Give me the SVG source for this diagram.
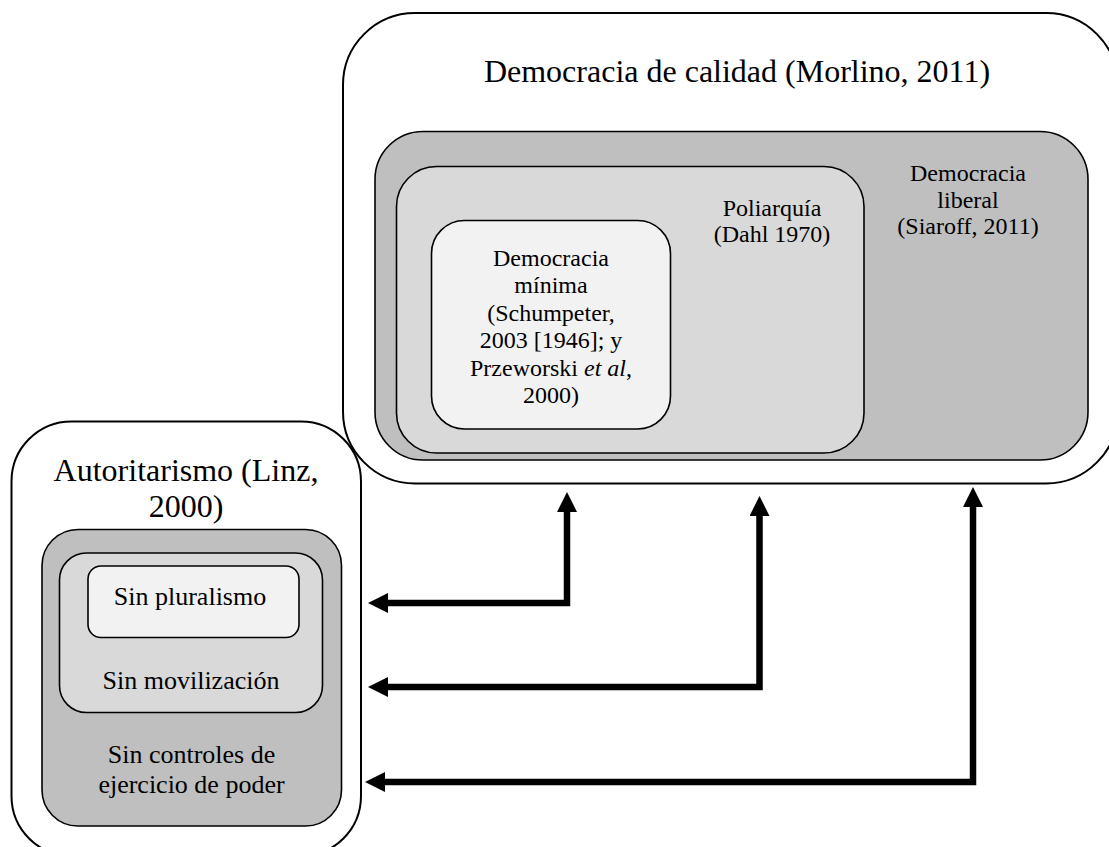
<svg xmlns="http://www.w3.org/2000/svg" width="1109" height="847" viewBox="0 0 1109 847">
  <style>
    text { font-family: "Liberation Serif", "Times New Roman", serif; fill: #000; text-anchor: middle; }
    .t32 { font-size: 32px; }
    .t26 { font-size: 26px; }
    .t24 { font-size: 24px; }
    .outer { fill: none; stroke: #000; stroke-width: 2; }
    .box { stroke: #000; stroke-width: 1.6; }
    .dark { fill: #bfbfbf; }
    .mid { fill: #d9d9d9; }
    .light { fill: #f2f2f2; }
    .link { fill: none; stroke: #000; stroke-width: 6.5; stroke-linejoin: miter; }
  </style>
  <defs>
    <marker id="head" markerUnits="userSpaceOnUse" markerWidth="20" markerHeight="20" viewBox="0 0 20 20" refX="0" refY="10" orient="auto-start-reverse">
      <path d="M0,0 L20,10 L0,20 z" fill="#000"/>
    </marker>
  </defs>
  <rect width="1109" height="847" fill="#fff"/>

  <!-- Quality democracy and its nested types -->
  <g id="democracia-calidad">
    <rect class="outer" x="343" y="13" width="775" height="470.5" rx="72"/>
    <text class="t32" x="737" y="82">Democracia de calidad (Morlino, 2011)</text>
  </g>
  <g id="democracia-liberal">
    <rect class="box dark" x="375" y="131.5" width="713" height="328.5" rx="48"/>
    <text class="t24" x="968" y="181">Democracia</text>
    <text class="t24" x="968" y="207.5">liberal</text>
    <text class="t24" x="968" y="234">(Siaroff, 2011)</text>
  </g>
  <g id="poliarquia">
    <rect class="box mid" x="396.5" y="166.5" width="467.5" height="286.5" rx="40"/>
    <text class="t24" x="772" y="215.5">Poliarquía</text>
    <text class="t24" x="772" y="242">(Dahl 1970)</text>
  </g>
  <g id="democracia-minima">
    <rect class="box light" x="431.5" y="220.5" width="239" height="208.5" rx="33"/>
    <text class="t24" x="551" y="266">Democracia</text>
    <text class="t24" x="551" y="293">mínima</text>
    <text class="t24" x="551" y="320.5">(Schumpeter,</text>
    <text class="t24" x="551" y="348">2003 [1946]; y</text>
    <text class="t24" x="551" y="375.5">Przeworski <tspan font-style="italic">et al</tspan>,</text>
    <text class="t24" x="551" y="403">2000)</text>
  </g>

  <!-- Authoritarianism and its nested features -->
  <g id="autoritarismo">
    <rect class="outer" x="11.5" y="421.5" width="349.5" height="434.5" rx="60"/>
    <text class="t32" x="186" y="481">Autoritarismo (Linz,</text>
    <text class="t32" x="186" y="516.5">2000)</text>
  </g>
  <g id="sin-controles">
    <rect class="box dark" x="42" y="529.5" width="299.5" height="296.5" rx="36"/>
    <text class="t26" x="191.5" y="763">Sin controles de</text>
    <text class="t26" x="191.5" y="793">ejercicio de poder</text>
  </g>
  <g id="sin-movilizacion">
    <rect class="box mid" x="59.5" y="553" width="263" height="159.5" rx="27"/>
    <text class="t26" x="191" y="688.5">Sin movilización</text>
  </g>
  <g id="sin-pluralismo">
    <rect class="box light" x="88" y="566" width="211" height="71.5" rx="13"/>
    <text class="t26" x="190" y="605">Sin pluralismo</text>
  </g>

  <!-- Double-headed elbow connectors -->
  <g id="connectors">
    <path class="link" d="M567 512 V603 H388" marker-start="url(#head)" marker-end="url(#head)"/>
    <path class="link" d="M759.5 516 V687 H388" marker-start="url(#head)" marker-end="url(#head)"/>
    <path class="link" d="M973 507 V782 H385" marker-start="url(#head)" marker-end="url(#head)"/>
  </g>
</svg>
